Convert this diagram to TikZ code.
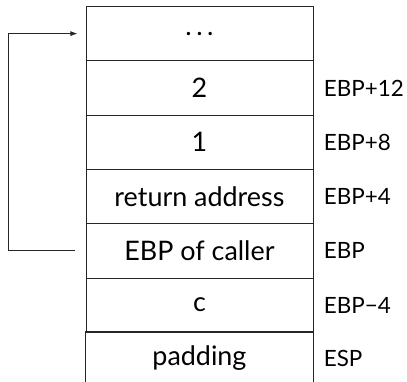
\documentclass[tikz,border=0pt]{standalone}
\usepackage{fontspec}
\setmainfont{Lato}
\usetikzlibrary{arrows.meta}
\begin{document}
\begin{tikzpicture}[x=1bp,y=-1bp,
  line width=0.9bp,
  cell/.style={draw=black!85, minimum width=227bp, minimum height=54.3bp,
    inner sep=0pt, anchor=north west, font=\fontsize{27}{32}\selectfont},
  lbl/.style={anchor=west, inner sep=0pt, font=\fontsize{22.5}{27}\selectfont},
  link/.style={-{Latex[length=7bp,width=5bp]}, draw=black!85}]
\useasboundingbox (0,0) rectangle (407,382);

% stack frame cells, top to bottom
\node[cell] (c0) at (85.5,6)     {.\,.\,.};
\node[cell] (c1) at (85.5,60.3)  {2};
\node[cell] (c2) at (85.5,114.6) {1};
\node[cell] (c3) at (85.5,168.9) {return address};
\node[cell] (c4) at (85.5,223.2) {EBP of caller};
\node[cell] (c5) at (85.5,277.5) {c};
\node[cell, draw=none, minimum height=52bp] (c6) at (85.5,331.8) {padding};
\draw[draw=black!85] (c6.south west) -- (c6.north west) -- (c6.north east) -- (c6.south east);

% register-relative offsets
\node[lbl] (l1) at ([xshift=10bp]c1.east) {EBP+12};
\node[lbl] (l2) at ([xshift=10bp]c2.east) {EBP+8};
\node[lbl] (l3) at ([xshift=10bp]c3.east) {EBP+4};
\node[lbl] (l4) at ([xshift=10bp]c4.east) {EBP};
\node[lbl] (l5) at ([xshift=10bp]c5.east) {EBP−4};
\node[lbl] (l6) at ([xshift=10bp]c6.east) {ESP};

% saved frame pointer points to the caller's frame
\coordinate (turn) at (8,0);
\draw[link] ([xshift=-10bp]c4.west) -- (c4.west -| turn) |- ([xshift=-8bp]c0.west);
\end{tikzpicture}
\end{document}
